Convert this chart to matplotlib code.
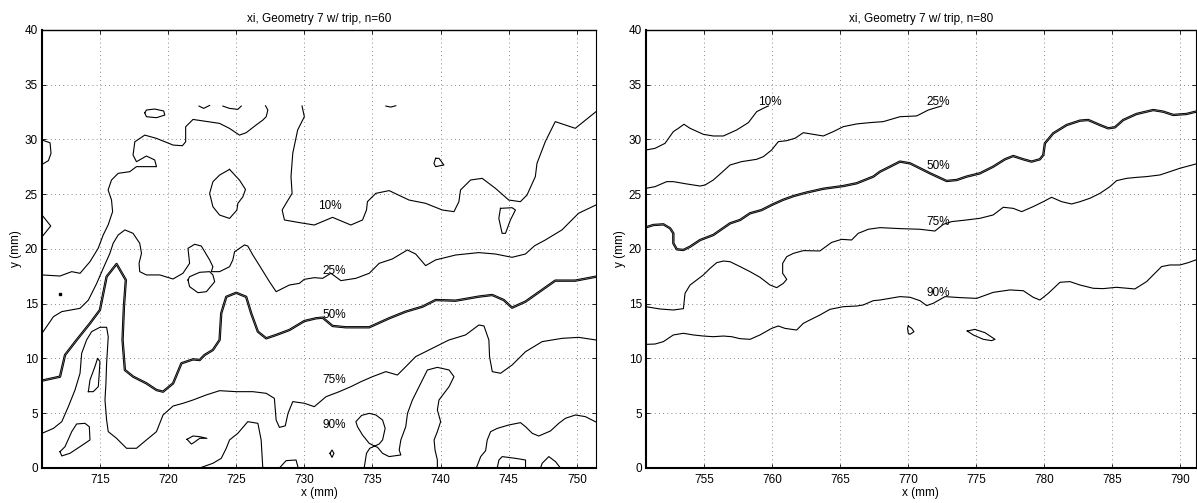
import matplotlib
matplotlib.use("Agg")
import matplotlib.pyplot as plt

plt.rcParams['font.family'] = ['Liberation Sans', 'DejaVu Sans']
plt.rcParams['font.size'] = 8.5

# ---------------- station n = 60 : contour paths (x, y in mm) ----------------
a10_main_x = [729.83, 730.0, 729.51, 729.15, 729.02, 729.1, 728.66, 728.37, 728.54, 729.63,
              730.73, 732.07, 733.41, 734.27, 734.56, 734.63, 735.24, 736.22, 737.68, 738.9,
              740.12, 740.98, 741.34, 741.46, 742.2, 743.05, 744.02, 745.0, 745.85, 746.34,
              746.95, 747.07, 747.68, 748.41, 749.88, 751.4]
a10_main_y = [33.06, 32.08, 30.87, 28.74, 26.61, 25.08, 24.17, 23.56, 22.65, 22.41,
              22.19, 22.89, 22.19, 22.65, 23.56, 24.32, 25.08, 25.33, 24.47, 24.17,
              23.56, 23.41, 24.32, 25.39, 26.3, 26.45, 25.54, 24.47, 24.32, 24.93,
              26.61, 27.82, 29.8, 31.63, 31.02, 32.54]

a10_west_x = [710.75, 712.07, 712.93, 713.54, 714.27, 714.87, 715.24, 715.6, 715.93, 715.85,
              715.6, 715.85, 716.34, 717.19, 717.68, 719.15, 719.02, 718.41, 717.68, 717.43,
              717.56, 718.29, 719.15, 720.37, 721.05, 721.29, 721.29, 721.83, 723.78, 724.51,
              725.24, 725.73, 726.46, 726.95, 727.2, 727.32, 727.15]
a10_west_y = [17.63, 17.53, 17.93, 17.78, 18.84, 20.06, 21.28, 22.19, 23.41, 24.47,
              25.39, 26.3, 26.91, 27.06, 27.52, 27.52, 28.13, 28.49, 27.97, 28.58,
              29.79, 30.4, 30.1, 29.49, 29.43, 29.79, 31.16, 31.83, 31.47, 31.01,
              30.4, 30.62, 31.32, 31.77, 32.08, 32.69, 33.08]

a10_arc1_x = [722.27, 722.61, 723.05]
a10_arc1_y = [33.05, 32.84, 33.11]
a10_arc2_x = [724.02, 724.51, 725.12, 725.37]
a10_arc2_y = [33.05, 32.84, 32.75, 33.05]
a10_arc3_x = [735.98, 736.34, 736.71]
a10_arc3_y = [33.05, 32.96, 33.08]

a10_blob1_x = [718.29, 718.41, 719.15, 719.76, 719.68, 719.02, 718.41, 718.29]
a10_blob1_y = [32.44, 32.08, 31.99, 32.23, 32.6, 32.78, 32.69, 32.44]
a10_oval_x = [724.51, 725.24, 725.68, 725.49, 725.12, 725.05, 724.51, 723.78, 723.29, 723.05,
              723.29, 723.78, 724.51]
a10_oval_y = [27.27, 26.29, 25.44, 24.77, 24.16, 23.55, 22.79, 23.1, 23.86, 25.08,
              26.14, 26.75, 27.27]
a10_blob2_x = [744.39, 744.27, 744.51, 744.76, 745.12, 745.49, 745.24, 744.39]
a10_blob2_y = [23.71, 22.8, 21.43, 21.43, 22.65, 23.56, 23.77, 23.71]
a10_blob3_x = [739.63, 739.51, 739.63, 740.24, 739.88, 739.63]
a10_blob3_y = [28.28, 27.82, 27.52, 27.67, 28.28, 28.28]
a10_edge1_x = [710.75, 711.34, 711.41, 711.22, 710.8]
a10_edge1_y = [29.95, 29.7, 28.74, 28.07, 27.76]
a10_edge2_x = [710.75, 711.39, 710.8]
a10_edge2_y = [23.1, 22.1, 21.19]

a25_x = [710.75, 711.59, 712.2, 713.54, 714.15, 714.76, 715.24, 715.73, 715.97, 716.34,
         716.83, 717.43, 717.92, 718.05, 717.87, 717.92, 718.41, 719.39, 720.36, 721.09,
         721.58, 721.46, 721.95, 722.44, 723.05, 723.29, 723.17, 723.78, 724.51, 724.75,
         724.88, 725.61, 725.85, 726.22, 726.83, 727.44, 727.93, 728.9, 729.63, 730.0,
         730.73, 731.34, 731.95, 732.68, 733.78, 734.76, 735.49, 736.46, 737.56, 738.17,
         738.9, 739.63, 741.1, 742.8, 744.02, 745.24, 746.22, 746.9, 747.68, 748.9,
         750.12, 751.4]
a25_y = [12.3, 13.82, 14.28, 14.58, 15.33, 16.85, 18.23, 19.6, 20.52, 21.28,
         21.74, 21.43, 20.52, 19.61, 18.69, 17.93, 17.63, 17.63, 17.26, 17.78,
         18.69, 20.06, 20.43, 20.27, 19.0, 18.38, 17.93, 17.93, 18.38, 19.0,
         19.75, 20.37, 20.27, 19.45, 18.24, 17.01, 16.1, 16.71, 16.86, 17.23,
         17.38, 17.32, 17.78, 17.11, 17.32, 17.78, 18.69, 19.09, 19.91, 19.54,
         18.48, 19.0, 19.45, 19.67, 19.54, 19.24, 19.54, 20.3, 20.82, 21.74,
         23.26, 24.02]
a25_loop_x = [721.46, 721.58, 722.19, 722.81, 723.42, 723.29, 723.05, 722.32, 721.58, 721.46]
a25_loop_y = [17.17, 16.56, 16.01, 16.1, 17.01, 17.63, 17.93, 17.87, 17.47, 17.17]

a50_x = [710.75, 712.07, 712.44, 713.29, 714.27, 715.0, 715.49, 716.22, 716.9, 716.76,
         716.66, 716.83, 717.44, 718.41, 719.15, 719.63, 720.37, 720.98, 721.83, 722.32,
         722.68, 723.29, 723.78, 723.9, 724.27, 725.0, 725.73, 726.1, 726.59, 727.2,
         727.93, 728.9, 730.0, 730.85, 731.34, 732.07, 733.05, 734.76, 736.22, 737.44,
         738.66, 739.63, 741.1, 742.8, 743.78, 744.63, 745.24, 746.22, 747.44, 748.41,
         749.88, 751.4]
a50_y = [7.98, 8.34, 10.32, 11.69, 13.21, 14.43, 17.47, 18.63, 17.17, 14.73,
         11.69, 8.95, 8.34, 7.73, 7.12, 6.97, 7.73, 9.56, 9.92, 9.86,
         10.32, 10.78, 11.69, 14.12, 15.63, 16.0, 15.63, 14.12, 12.45, 11.84,
         12.15, 12.6, 13.42, 13.67, 13.73, 12.97, 12.85, 12.85, 13.67, 14.28,
         14.73, 15.34, 15.28, 15.65, 15.8, 15.34, 14.64, 15.19, 16.26, 17.11,
         17.11, 17.47]

a75_x = [710.76, 711.59, 712.2, 712.68, 713.17, 713.54, 713.66, 714.02, 714.39, 715.0,
         715.49, 715.61, 715.49, 715.44, 715.37, 715.49, 715.61, 716.22, 716.95, 717.68,
         718.41, 719.15, 719.63, 720.37, 721.1, 721.83, 722.8, 723.78, 725.0, 726.22,
         727.2, 727.8, 727.93, 728.17, 728.6, 728.8, 729.15, 730.0, 730.73, 731.59,
         732.56, 733.42, 734.15, 735.0, 735.98, 736.83, 737.44, 738.17, 739.63, 740.61,
         741.83, 742.81, 743.18, 743.54, 743.59, 743.79, 744.4, 745.25, 746.23, 747.45,
         748.91, 750.13, 751.4]
a75_y = [3.17, 3.62, 4.23, 5.6, 7.12, 8.65, 10.47, 11.69, 12.45, 12.85,
         12.85, 11.99, 9.56, 7.73, 6.21, 4.38, 3.32, 2.71, 1.8, 1.8,
         2.56, 3.32, 4.84, 5.66, 5.91, 6.21, 6.67, 7.06, 6.97, 6.97,
         6.82, 6.36, 4.38, 3.71, 3.85, 4.99, 6.06, 5.91, 5.6, 6.51,
         6.97, 7.43, 7.88, 8.34, 8.8, 8.49, 9.25, 10.17, 11.08, 11.69,
         12.15, 13.06, 12.97, 11.69, 10.17, 8.8, 8.65, 9.41, 10.62, 11.54,
         11.84, 11.93, 11.69]

a90_isle1_x = [714.15, 714.27, 714.63, 714.83, 715.0, 714.95, 714.88, 714.51, 714.15]
a90_isle1_y = [6.97, 8.04, 9.25, 10.02, 9.71, 8.65, 7.43, 6.97, 6.97]
a90_isle2_x = [712.07, 712.44, 712.93, 713.29, 713.9, 714.22, 714.27, 713.54, 712.8, 712.2, 712.07]
a90_isle2_y = [1.49, 1.95, 3.32, 4.02, 4.08, 3.77, 2.56, 1.95, 1.34, 1.1, 1.49]
a90_isle3_x = [721.39, 721.71, 721.88, 722.32, 722.85, 722.32, 721.83, 721.39]
a90_isle3_y = [2.62, 2.19, 2.31, 2.71, 2.71, 2.86, 2.92, 2.62]
a90_dome_x = [722.32, 723.29, 723.9, 724.27, 724.51, 725.12, 725.85, 726.59, 726.83, 726.95]
a90_dome_y = [0.0, 0.43, 0.88, 1.8, 2.56, 3.17, 4.23, 4.08, 2.56, 0.0]
a90_bump1_x = [728.17, 728.66, 729.39, 729.55]
a90_bump1_y = [0.0, 0.67, 0.73, 0.0]
a90_diamond_x = [731.88, 732.03, 732.17, 732.03, 731.88]
a90_diamond_y = [1.34, 1.64, 1.34, 0.97, 1.34]
a90_twin_x = [734.39, 734.56, 734.8, 735.15, 734.76, 734.27, 733.9, 733.78, 734.2, 734.76,
              735.25, 735.74, 735.93, 735.74, 735.49, 735.15, 735.37, 735.74, 736.22, 737.08,
              736.96, 737.08, 737.44, 737.57, 737.93, 738.54, 739.03, 739.76, 740.62, 740.98,
              740.62, 739.88, 739.76, 740.0, 739.76, 739.52, 739.59, 739.76, 739.76]
a90_twin_y = [0.0, 1.34, 1.8, 2.0, 2.25, 3.01, 3.77, 4.23, 4.8, 4.99,
              4.84, 4.38, 3.62, 2.56, 2.19, 2.0, 1.89, 1.34, 1.04, 1.19,
              1.64, 2.56, 3.77, 4.99, 6.21, 7.73, 8.95, 9.19, 8.95, 8.34,
              7.43, 6.21, 5.3, 4.23, 3.32, 2.56, 1.64, 0.73, 0.0]
a90_east_x = [742.62, 742.94, 743.3, 743.42, 743.67, 744.16, 745.01, 745.86, 746.23, 746.72,
              747.2, 748.06, 748.67, 749.16, 749.89, 750.62, 751.4]
a90_east_y = [0.0, 1.04, 1.58, 2.56, 3.32, 3.62, 3.93, 4.14, 3.77, 3.17,
              2.92, 3.38, 4.08, 4.54, 4.84, 4.69, 4.2]
a90_bump2_x = [744.15, 744.28, 744.52, 745.5, 746.23, 746.23]
a90_bump2_y = [0.0, 0.73, 1.04, 0.88, 0.73, 0.0]
a90_bump3_x = [747.33, 747.45, 747.94, 748.43, 748.79]
a90_bump3_y = [0.0, 0.43, 1.04, 0.58, 0.0]

a_speck_x = [712.07]
a_speck_y = [15.86]

a_label_text = ['10%', '25%', '50%', '75%', '90%']
a_label_x = [731.85, 732.2, 732.2, 732.2, 732.2]
a_label_y = [23.9, 17.95, 14.0, 8.05, 3.95]

# ---------------- station n = 80 : contour paths (x, y in mm) ----------------
b10_x = [750.71, 751.37, 752.11, 752.72, 753.09, 753.5, 753.95, 754.93, 755.66, 756.4,
         757.38, 758.24, 758.85, 759.34, 759.71]
b10_y = [29.04, 29.19, 29.65, 30.72, 31.02, 31.39, 31.02, 30.47, 30.32, 30.32,
         30.87, 31.54, 32.54, 32.85, 33.06]

b25_x = [750.71, 751.37, 752.23, 752.72, 753.7, 754.68, 755.05, 755.66, 756.27, 756.89,
         757.75, 758.85, 759.34, 759.95, 760.44, 761.05, 761.67, 762.28, 763.01, 763.75,
         764.49, 765.22, 766.2, 767.18, 768.16, 769.39, 770.62, 771.47, 772.45]
b25_y = [25.54, 25.69, 26.15, 26.15, 25.94, 25.75, 25.84, 26.3, 26.97, 27.67,
         27.98, 28.19, 28.43, 29.04, 29.8, 29.89, 30.11, 30.62, 30.47, 30.32,
         30.72, 31.17, 31.42, 31.54, 31.63, 32.08, 32.15, 32.69, 33.06]

b50_x = [750.71, 751.25, 751.99, 752.48, 752.72, 752.72, 752.97, 753.46, 753.95, 754.69,
         755.66, 756.89, 757.63, 758.36, 759.2, 760.0, 760.81, 761.6, 762.5, 763.75,
         765.22, 766.2, 767.43, 767.92, 768.66, 769.39, 770.13, 770.86, 771.6, 772.82,
         773.56, 774.29, 775.27, 776.25, 777.11, 777.72, 778.46, 779.07, 779.68, 779.93,
         780.05, 780.66, 781.65, 782.63, 783.24, 784.1, 784.71, 785.2, 785.81, 786.79,
         788.02, 788.75, 789.49, 790.47, 791.15]
b50_y = [21.98, 22.19, 22.25, 21.89, 21.43, 20.52, 19.97, 19.91, 20.21, 20.82,
         21.28, 22.34, 22.65, 23.26, 23.55, 24.05, 24.5, 24.85, 25.15, 25.5,
         25.75, 26.0, 26.61, 27.06, 27.52, 27.98, 27.82, 27.37, 26.91, 26.21,
         26.3, 26.61, 26.91, 27.52, 28.19, 28.49, 28.19, 27.98, 28.19, 28.58,
         29.65, 30.56, 31.32, 31.72, 31.78, 31.32, 31.02, 31.11, 31.78, 32.33,
         32.69, 32.54, 32.24, 32.33, 32.54]

b75_x = [750.71, 751.0, 751.74, 752.72, 753.46, 753.58, 753.95, 754.44, 754.93, 755.42,
         755.91, 756.4, 756.89, 757.63, 758.36, 759.1, 759.83, 760.32, 760.81, 761.06,
         760.76, 760.76, 761.06, 761.55, 762.28, 763.5, 764.36, 765.1, 765.83, 766.32,
         767.06, 767.92, 769.39, 770.86, 771.96, 772.58, 773.19, 774.29, 775.27, 776.25,
         776.99, 777.72, 778.34, 779.19, 779.93, 780.54, 781.28, 782.01, 782.63, 783.36,
         784.1, 784.83, 785.32, 786.06, 786.79, 787.53, 788.51, 789.24, 789.98, 791.15]
b75_y = [14.73, 14.67, 14.52, 14.43, 14.55, 15.95, 16.71, 17.17, 17.63, 18.23,
         18.75, 18.9, 18.84, 18.39, 17.93, 17.41, 16.71, 16.47, 16.86, 17.23,
         17.78, 18.69, 19.3, 19.6, 19.85, 19.82, 20.6, 20.88, 20.82, 21.43,
         21.8, 21.95, 21.86, 21.8, 21.64, 22.25, 22.5, 22.65, 22.8, 23.11,
         23.81, 23.71, 23.41, 23.87, 24.32, 24.72, 24.32, 24.11, 24.32, 24.63,
         25.08, 25.69, 26.24, 26.45, 26.54, 26.61, 26.76, 27.06, 27.37, 27.76]

b90_x = [750.71, 751.37, 751.99, 752.72, 753.46, 754.19, 754.93, 755.66, 756.4, 757.01,
         757.62, 758.36, 759.09, 759.95, 760.44, 760.93, 761.79, 762.28, 762.77, 763.5,
         764.24, 765.22, 766.2, 766.69, 767.43, 767.92, 769.39, 770.13, 770.86, 771.35,
         771.84, 772.7, 773.8, 775.03, 776.25, 777.48, 778.46, 779.19, 779.68, 780.3,
         781.16, 781.89, 782.63, 783.61, 784.34, 785.32, 786.67, 787.53, 788.63, 789.24,
         789.98, 790.59, 791.15]
b90_y = [11.29, 11.32, 11.54, 12.15, 12.3, 12.15, 12.05, 11.99, 12.05, 11.99,
         11.81, 11.75, 12.15, 12.75, 12.97, 12.75, 12.6, 13.21, 13.52, 13.97,
         14.49, 14.73, 14.79, 14.89, 15.28, 15.34, 15.65, 15.59, 15.28, 14.83,
         15.04, 15.65, 15.56, 15.49, 16.04, 16.26, 16.19, 15.59, 15.34, 15.95,
         16.96, 17.02, 16.71, 16.41, 16.38, 16.5, 16.35, 17.02, 18.39, 18.54,
         18.54, 18.75, 19.0]
b90_isle1_x = [770.0, 770.25, 770.42, 770.13, 770.0, 769.95, 770.0]
b90_isle1_y = [12.97, 12.75, 12.45, 12.21, 12.3, 12.75, 12.97]
b90_isle2_x = [774.34, 774.9, 775.64, 776.38, 776.13, 775.52, 774.78, 774.34]
b90_isle2_y = [12.51, 12.66, 12.36, 11.75, 11.63, 11.75, 12.15, 12.51]

b_label_text = ['10%', '25%', '50%', '75%', '90%']
b_label_x = [759.85, 772.2, 772.2, 772.2, 772.2]
b_label_y = [33.4, 33.45, 27.55, 22.5, 15.95]

# ---------------- axis settings ----------------
panel_titles = ['xi, Geometry 7 w/ trip, n=60', 'xi, Geometry 7 w/ trip, n=80']
panel_xlim = [(710.75, 751.4), (750.71, 791.15)]
panel_xticks = [[715, 720, 725, 730, 735, 740, 745, 750],
                [755, 760, 765, 770, 775, 780, 785, 790]]
y_ticks = [0, 5, 10, 15, 20, 25, 30, 35, 40]

thin_a = [
    (a10_main_x, a10_main_y), (a10_west_x, a10_west_y),
    (a10_arc1_x, a10_arc1_y), (a10_arc2_x, a10_arc2_y), (a10_arc3_x, a10_arc3_y),
    (a10_blob1_x, a10_blob1_y), (a10_oval_x, a10_oval_y), (a10_blob2_x, a10_blob2_y),
    (a10_blob3_x, a10_blob3_y), (a10_edge1_x, a10_edge1_y), (a10_edge2_x, a10_edge2_y),
    (a25_x, a25_y), (a25_loop_x, a25_loop_y), (a75_x, a75_y),
    (a90_isle1_x, a90_isle1_y), (a90_isle2_x, a90_isle2_y), (a90_isle3_x, a90_isle3_y),
    (a90_dome_x, a90_dome_y), (a90_bump1_x, a90_bump1_y), (a90_diamond_x, a90_diamond_y),
    (a90_twin_x, a90_twin_y), (a90_east_x, a90_east_y), (a90_bump2_x, a90_bump2_y),
    (a90_bump3_x, a90_bump3_y),
]
thin_b = [
    (b10_x, b10_y), (b25_x, b25_y), (b75_x, b75_y), (b90_x, b90_y),
    (b90_isle1_x, b90_isle1_y), (b90_isle2_x, b90_isle2_y),
]
thick_a = [(a50_x, a50_y)]
thick_b = [(b50_x, b50_y)]

fig = plt.figure(figsize=(11.97, 5.03), dpi=100)
ax_a = fig.add_axes([0.0351, 0.0696, 0.4628, 0.8708])
ax_b = fig.add_axes([0.5397, 0.0696, 0.4593, 0.8708])

panels = [
    (ax_a, thin_a, thick_a, a_label_text, a_label_x, a_label_y),
    (ax_b, thin_b, thick_b, b_label_text, b_label_x, b_label_y),
]

for i, (ax, thin, thick, ltxt, lx, ly) in enumerate(panels):
    for xs, ys in thin:
        ax.plot(xs, ys, color='black', lw=0.8, solid_joinstyle='round')
    for xs, ys in thick:
        ax.plot(xs, ys, color='black', lw=1.7, solid_joinstyle='round')
        ax.plot(xs, ys, color='white', lw=0.35, alpha=0.6, solid_joinstyle='round')
    if i == 0:
        ax.plot(a_speck_x, a_speck_y, 's', color='black', ms=1.5)
    for t, x, y in zip(ltxt, lx, ly):
        ax.text(x, y, t, ha='center', va='center', fontsize=8.5)

    ax.set_xlim(*panel_xlim[i])
    ax.set_ylim(0, 40)
    ax.set_xticks(panel_xticks[i])
    ax.set_yticks(y_ticks)
    ax.grid(True, color='0.4', linestyle=(0, (1, 4)), lw=0.6)
    ax.tick_params(direction='in', length=3, width=0.6, top=True, right=True,
                   labelsize=8.5, pad=3)
    ax.tick_params(axis='x', pad=4)
    ax.spines['left'].set_linewidth(1.5)
    ax.spines['bottom'].set_linewidth(1.5)
    ax.spines['top'].set_linewidth(1.0)
    ax.spines['right'].set_linewidth(0.8)
    ax.set_title(panel_titles[i], fontsize=8.5, pad=6)
    ax.set_xlabel('x (mm)', fontsize=8.5, labelpad=1)
    ax.set_ylabel('y (mm)', fontsize=8.5, labelpad=2)

fig.savefig('out.png', dpi=100)
